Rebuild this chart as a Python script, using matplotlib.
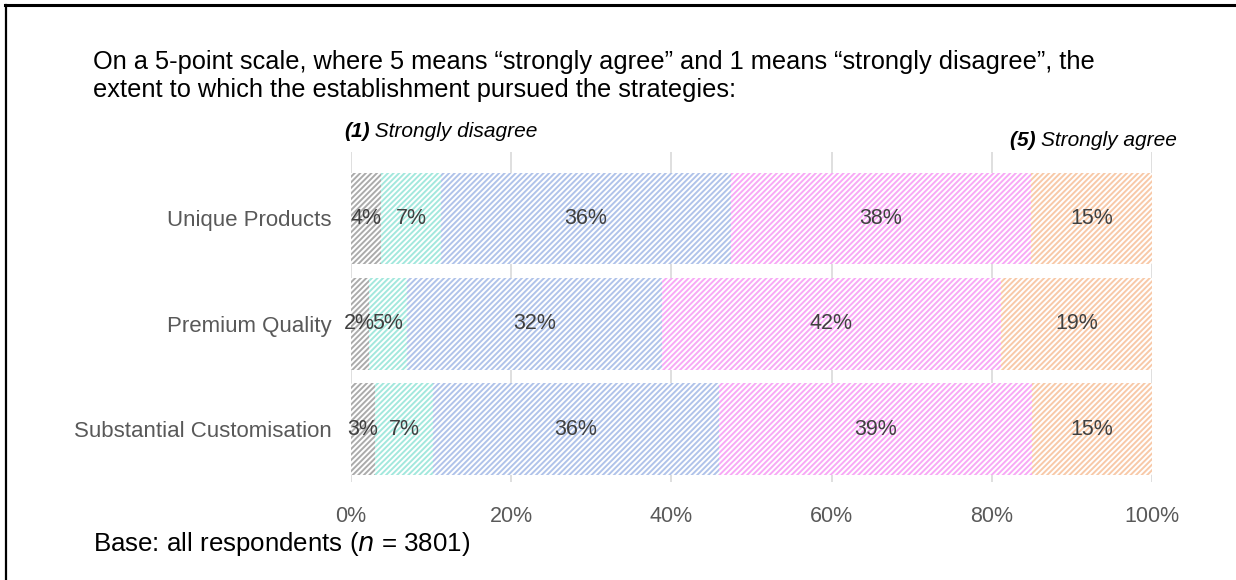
import numpy as np
import matplotlib.pyplot as plt
from matplotlib.lines import Line2D

plt.rcParams['font.family'] = ['Liberation Sans', 'DejaVu Sans']
plt.rcParams['hatch.linewidth'] = 1.4

categories = ['Unique Products', 'Premium Quality', 'Substantial Customisation']
levels = ['1', '2', '3', '4', '5']
shares = {
    '1': [3.8, 2.2, 3.0],
    '2': [7.4, 4.8, 7.2],
    '3': [36.2, 31.8, 35.7],
    '4': [37.5, 42.3, 39.1],
    '5': [15.1, 18.9, 15.0],
}
labels = {
    '1': ['4%', '2%', '3%'],
    '2': ['7%', '5%', '7%'],
    '3': ['36%', '32%', '36%'],
    '4': ['38%', '42%', '39%'],
    '5': ['15%', '19%', '15%'],
}
colors = ['#ababab', '#a3e8dd', '#b0c3ea', '#f8a8f6', '#f8c9a8']

fig = plt.figure(figsize=(12.36, 5.80), dpi=100)
ax = fig.add_axes([0.284, 0.169, 0.648, 0.569])

y = np.arange(len(categories))
left = np.zeros(len(categories))
for lev, col in zip(levels, colors):
    vals = np.array(shares[lev])
    ax.barh(y, vals, left=left, height=0.87, color='white', edgecolor=col,
            linewidth=0, hatch='//////', zorder=2)
    for yi, (l, v, t) in enumerate(zip(left, vals, labels[lev])):
        ax.text(l + v / 2, yi, t, ha='center', va='center', fontsize=15.5,
                color='#404040', zorder=3)
    left = left + vals

ax.set_xlim(0, 100)
ax.set_ylim(2.5, -0.63)
ax.set_xticks(range(0, 101, 20))
ax.set_xticklabels([f'{v}%' for v in range(0, 101, 20)], fontsize=15.5, color='#595959')
ax.set_yticks(y)
ax.set_yticklabels(categories, fontsize=16, color='#595959')
ax.tick_params(axis='x', length=0, pad=17)
ax.tick_params(axis='y', length=0, pad=14)
ax.xaxis.grid(True, color='#d9d9d9', linewidth=1.2, zorder=0)
ax.set_axisbelow(True)
for s in ax.spines.values():
    s.set_visible(False)

# end labels of the scale
t1 = ax.text(-0.9, -0.82, '(1)', fontsize=15, fontweight='bold', fontstyle='italic',
             ha='left', va='center')
ax.annotate(' Strongly disagree', xy=(1, 0.5), xycoords=t1, fontsize=15,
            fontstyle='italic', ha='left', va='center')
t5 = ax.text(103.1, -0.74, 'Strongly agree', fontsize=15, fontstyle='italic',
             ha='right', va='center')
ax.annotate('(5) ', xy=(0, 0.5), xycoords=t5, fontsize=15, fontweight='bold',
            fontstyle='italic', ha='right', va='center')

fig.text(0.075, 0.869, 'On a 5-point scale, where 5 means \u201cstrongly agree\u201d and 1 means '
         '\u201cstrongly disagree\u201d, the\nextent to which the establishment pursued the strategies:',
         fontsize=18.3, ha='left', va='center', linespacing=1.18)
fig.text(0.075, 0.062, 'Base: all respondents ($\\it{n}$ = 3801)', fontsize=18.6,
         ha='left', va='center')

# frame lines (top and left)
fig.add_artist(Line2D([0.004, 1.0], [0.991, 0.991], color='black', linewidth=2.2,
                      transform=fig.transFigure))
fig.add_artist(Line2D([0.005, 0.005], [0.0, 0.991], color='black', linewidth=1.6,
                      transform=fig.transFigure))

fig.savefig('out.png', dpi=100)
